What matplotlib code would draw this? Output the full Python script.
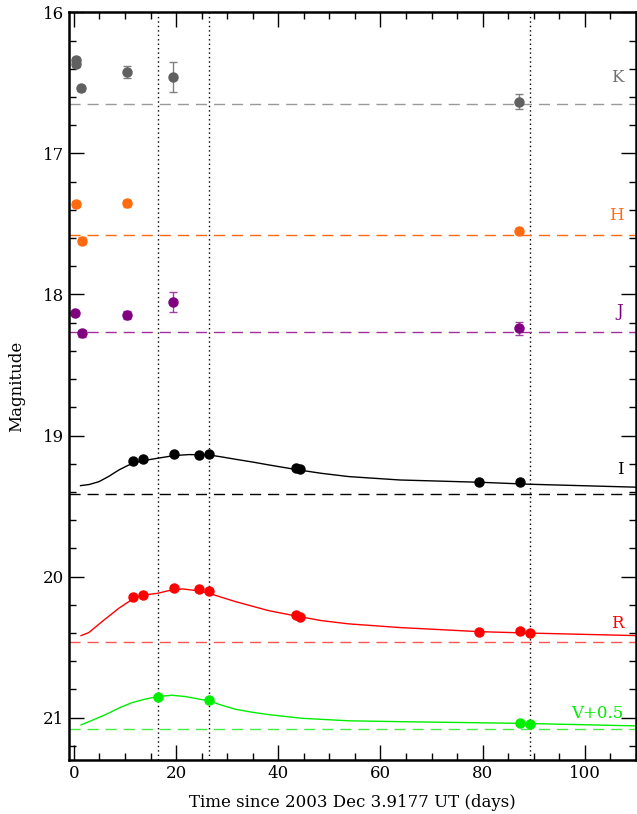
import matplotlib
matplotlib.use('Agg')
import matplotlib.pyplot as plt
from matplotlib.ticker import MultipleLocator

plt.rcParams['font.family'] = ['DejaVu Serif']

# photometry (days since 2003 Dec 3.9177 UT, magnitude, error)
k_t = [0.4, 0.4, 1.4, 10.3, 19.3, 87.2]
k_m = [16.338, 16.366, 16.539, 16.423, 16.459, 16.634]
k_e = [0.02, 0.02, 0.02, 0.045, 0.108, 0.054]

h_t = [0.5, 1.5, 10.3, 87.2]
h_m = [17.359, 17.619, 17.354, 17.548]
h_e = [0.02, 0.025, 0.025, 0.015]

j_t = [0.3, 1.5, 10.3, 19.4, 87.2]
j_m = [18.133, 18.275, 18.145, 18.051, 18.24]
j_e = [0.015, 0.025, 0.03, 0.07, 0.045]

i_t = [11.5, 13.6, 19.6, 24.5, 26.5, 43.4, 44.3, 79.3, 87.4]
i_m = [19.18, 19.168, 19.13, 19.14, 19.13, 19.232, 19.237, 19.331, 19.331]

r_t = [11.5, 13.6, 19.6, 24.5, 26.5, 43.4, 44.3, 79.3, 87.4, 89.3]
r_m = [20.142, 20.132, 20.082, 20.089, 20.099, 20.271, 20.283, 20.39, 20.383, 20.397]

v_t = [16.4, 26.5, 87.4, 89.3]
v_m = [20.851, 20.874, 21.04, 21.044]

# model curves
i_ct = [1.3, 3.0, 4.9, 6.8, 8.8, 10.5, 12.1, 14.2, 16.4, 19.6, 22.5, 26.4, 29.0, 31.6, 35.0,
        38.1, 44.0, 48.5, 53.8, 63.8, 79.3, 89.0, 110.0]
i_cm = [19.355, 19.347, 19.327, 19.29, 19.244, 19.213, 19.19, 19.174, 19.161, 19.142, 19.135,
        19.137, 19.152, 19.168, 19.188, 19.208, 19.244, 19.268, 19.291, 19.315, 19.331, 19.345, 19.366]
r_ct = [1.4, 2.9, 5.5, 8.8, 10.5, 12.1, 14.2, 16.4, 18.6, 21.2, 23.8, 26.4, 31.6, 38.1,
        44.0, 48.5, 53.8, 63.8, 79.3, 89.0, 110.0]
r_cm = [20.418, 20.397, 20.319, 20.224, 20.183, 20.146, 20.128, 20.118, 20.099, 20.087, 20.098,
        20.118, 20.177, 20.241, 20.283, 20.312, 20.335, 20.361, 20.39, 20.40, 20.418]
v_ct = [1.4, 4.0, 6.8, 9.2, 11.4, 14.0, 16.4, 19.2, 21.8, 24.2, 26.4, 29.0, 31.6, 35.0,
        38.1, 44.6, 53.8, 63.8, 87.4, 110.0]
v_cm = [21.051, 21.012, 20.968, 20.925, 20.893, 20.868, 20.85, 20.841, 20.85, 20.866, 20.881,
        20.912, 20.94, 20.962, 20.978, 21.004, 21.022, 21.028, 21.04, 21.058]

# host / baseline levels
base_bands = ['K', 'H', 'J', 'I', 'R', 'V+0.5']
base_mag = [16.648, 17.581, 18.268, 19.412, 20.46, 21.079]
base_col = ['#999999', '#ff6a10', '#a030a0', 'black', '#ff5555', '#44ee44']
lab_col = ['#707070', '#ff6a10', '#800080', 'black', '#ff0000', '#00ee00']
lab_y = [16.46, 17.44, 18.12, 19.24, 20.33, 20.97]

vlines = [16.5, 26.4, 89.3]

fig = plt.figure(figsize=(6.37, 8.14), dpi=100)
ax = fig.add_axes([0.1088, 0.0663, 0.8896, 0.9186])

for x in vlines:
    ax.axvline(x, color='black', lw=1, ls=(0, (1, 2.2)), zorder=1)

for m, c in zip(base_mag, base_col):
    ax.axhline(m, color=c, lw=1, dashes=(8, 5), zorder=1)

ms = 6.5
ax.errorbar(k_t, k_m, yerr=k_e, fmt='o', color='#606060', ecolor='#808080', ms=ms, capsize=3, elinewidth=1)
ax.errorbar(h_t, h_m, yerr=h_e, fmt='o', color='#ff6a10', ecolor='#ff9060', ms=ms, capsize=3, elinewidth=1)
ax.errorbar(j_t, j_m, yerr=j_e, fmt='o', color='#800080', ecolor='#a040a0', ms=ms, capsize=3, elinewidth=1)

ax.plot(i_ct, i_cm, color='black', lw=1)
ax.plot(i_t, i_m, 'o', color='black', ms=ms)
ax.plot(r_ct, r_cm, color='#ff0000', lw=1)
ax.plot(r_t, r_m, 'o', color='#ff0000', ms=ms)
ax.plot(v_ct, v_cm, color='#00ee00', lw=1)
ax.plot(v_t, v_m, 'o', color='#00ee00', ms=ms)

for b, y, c in zip(base_bands, lab_y, lab_col):
    ax.text(107.5, y, b, color=c, fontsize=12, ha='right', va='center')

ax.set_xlim(-0.9, 110)
ax.set_ylim(21.3, 16)
ax.xaxis.set_major_locator(MultipleLocator(20))
ax.xaxis.set_minor_locator(MultipleLocator(5))
ax.yaxis.set_major_locator(MultipleLocator(1))
ax.yaxis.set_minor_locator(MultipleLocator(0.2))
ax.tick_params(which='both', direction='in', top=True, right=True, labelsize=12, width=1)
ax.tick_params(which='major', length=11)
ax.tick_params(which='minor', length=5)
for s in ax.spines.values():
    s.set_linewidth(1.8)

ax.set_xlabel('Time since 2003 Dec 3.9177 UT (days)', fontsize=12, labelpad=9)
ax.set_ylabel('Magnitude', fontsize=12, labelpad=13)

plt.savefig('out.png', dpi=100)
